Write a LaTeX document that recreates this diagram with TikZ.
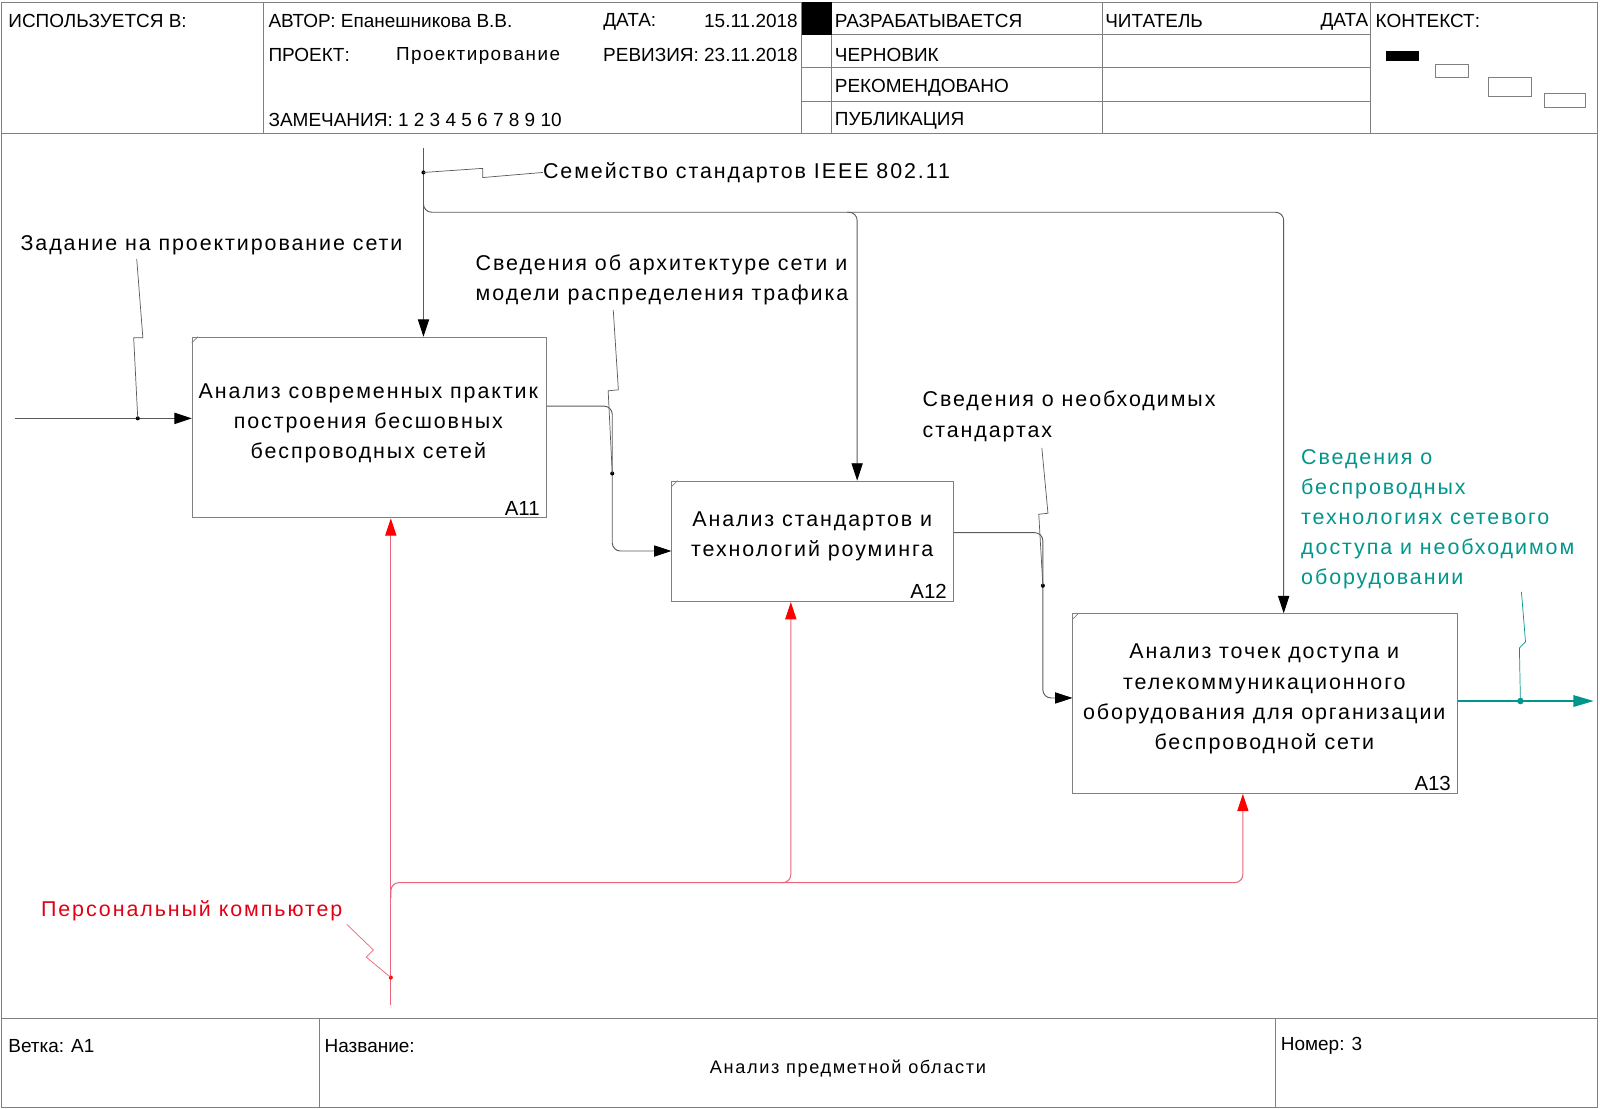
\documentclass[tikz,border=0pt]{standalone}
\usepackage{fontspec}
\setmainfont{Liberation Sans}
\newfontfamily\mfont[LetterSpace=9]{Liberation Sans}
\newfontfamily\pfont[LetterSpace=7.5]{Liberation Sans}
\usetikzlibrary{arrows.meta,calc}
\definecolor{lg}{RGB}{90,90,90}
\definecolor{bx}{RGB}{128,128,128}
\definecolor{rl}{RGB}{236,100,122}
\definecolor{rt}{RGB}{225,0,20}
\definecolor{tl}{RGB}{0,150,140}
\begin{document}
\begin{tikzpicture}[x=1pt,y=-1pt,
  frm/.style={draw=bx,line width=1pt},
  hd/.style={anchor=west,inner sep=0pt,font=\fontsize{18.6}{18.6}\selectfont},
  hdr/.style={anchor=east,inner sep=0pt,font=\fontsize{18.6}{18.6}\selectfont},
  box/.style={draw=bx,line width=1pt,anchor=north west,inner sep=0pt},
  btxt/.style={align=center,inner sep=0pt,font=\mfont\fontsize{21}{29.5}\selectfont},
  ltxt/.style={align=left,anchor=west,inner sep=0pt,font=\mfont\fontsize{21}{29.5}\selectfont},
  btag/.style={anchor=south east,inner sep=0pt,font=\fontsize{20}{20}\selectfont},
  ln/.style={draw=lg,line width=0.9pt},
  rln/.style={draw=rl,line width=1pt},
  tln/.style={draw=tl,line width=2.2pt},
  ldr/.style={draw=lg,line width=0.7pt},
  arr/.style={-{Triangle[length=17pt,width=11pt,color=black]}},
  rarr/.style={-{Triangle[length=17pt,width=11pt,color=red]}},
  tarr/.style={-{Triangle[length=20pt,width=11pt]}},
  rc/.style={rounded corners=8pt}
]
\useasboundingbox (0,0) rectangle (1568,1086);
% frame
\draw[frm] (1,2) rectangle (1566,1085);
\draw[frm] (1,131) -- (1566,131);
\foreach \x in {258,785,815,1080,1343} \draw[frm] (\x,2) -- (\x,131);
\fill (786,2) rectangle (815,34);
\draw[frm] (815,34) -- (1343,34);
\draw[frm] (785,66) -- (1343,66);
\draw[frm] (785,99) -- (1343,99);
\fill (1358,50) rectangle (1391,60);
\draw[frm] (1407,63) rectangle (1439,76);
\draw[frm] (1459,76) rectangle (1501,95);
\draw[frm] (1514,92) rectangle (1554,105);
\draw[frm] (1,998) -- (1566,998);
\draw[frm] (313,998) -- (313,1085);
\draw[frm] (1250,998) -- (1250,1085);
% header text
\node[hd] (h1) at (8,21) {ИСПОЛЬЗУЕТСЯ В:};
\node[hd] (h2) at (263,21) {АВТОР: Епанешникова В.В.};
\node[hd] (h3) at (591,21) {ДАТА:};
\node[hdr] (h4) at (782,21) {15.11.2018};
\node[hd] (h5) at (263,54) {ПРОЕКТ:};
\node[anchor=west,inner sep=0pt,font=\pfont\fontsize{18.5}{18.5}\selectfont] (h6) at (388,55) {Проектирование};
\node[hdr] (h7) at (782,54) {РЕВИЗИЯ: 23.11.2018};
\node[hd] (h8) at (263,118) {ЗАМЕЧАНИЯ: 1 2 3 4 5 6 7 8 9 10};
\node[hd] (h9) at (818,21) {РАЗРАБАТЫВАЕТСЯ};
\node[hd] (h10) at (818,54) {ЧЕРНОВИК};
\node[hd] (h11) at (818,86) {РЕКОМЕНДОВАНО};
\node[hd] (h12) at (818,118) {ПУБЛИКАЦИЯ};
\node[hd] (h13) at (1083,21) {ЧИТАТЕЛЬ};
\node[hdr] (h14) at (1341,21) {ДАТА};
\node[hd] (h15) at (1348,21) {КОНТЕКСТ:};
% footer text
\node[hd] (f1) at (8,1025) {Ветка: A1};
\node[hd] (f2) at (318,1025) {Название:};
\node[inner sep=0pt,font=\mfont\fontsize{17.8}{17.8}\selectfont] (f3) at (831,1047) {Анализ предметной области};
\node[hd] (f4) at (1255,1025) {Номер: 3};
% boxes
\node[box,minimum width=347pt,minimum height=177pt] (A11) at (188,330) {};
\node[box,minimum width=276pt,minimum height=118pt] (A12) at (658,471) {};
\node[box,minimum width=377pt,minimum height=176pt] (A13) at (1051,601) {};
\foreach \b in {A11,A12,A13} \draw[draw=bx,line width=0.7pt] ([yshift=-6pt]\b.north west) -- ([xshift=6pt]\b.north west);
\node[btxt] (t11) at (361,414.5) {Анализ современных практик\\построения бесшовных\\беспроводных сетей};
\node[btxt] (t12) at (796,526) {Анализ стандартов и\\технологий роуминга};
\node[btxt] (t13) at (1239,685) {Анализ точек доступа и\\телекоммуникационного\\оборудования для организации\\беспроводной сети};
\node[btag] (g11) at ([xshift=-7pt,yshift=3pt]A11.south east) {A11};
\node[btag] (g12) at ([xshift=-7pt,yshift=3pt]A12.south east) {A12};
\node[btag] (g13) at ([xshift=-7pt,yshift=3pt]A13.south east) {A13};
% labels
\node[ltxt] (L1) at (20,240) {Задание на проектирование сети};
\node[ltxt] (L2) at (532,169) {Семейство стандартов IEEE 802.11};
\node[ltxt] (L3) at (466,274) {Сведения об архитектуре сети и\\модели распределения трафика};
\node[ltxt] (L4) at (904,408) {Сведения о необходимых\\стандартах};
\node[ltxt,text=tl] (L5) at (1275,509) {Сведения о\\беспроводных\\технологиях сетевого\\доступа и необходимом\\оборудовании};
\node[ltxt,text=rt] (L6) at (40,893) {Персональный компьютер};
% input
\coordinate (i1) at (15,410);
\coordinate (d1) at (135,410);
\draw[ln,arr] (i1) -- (i1 -| A11.west);
\fill (d1) circle (2pt);
\draw[ldr] (d1) -- (131,331) -- (140,331) -- (134,254);
% control
\coordinate (c1) at (415,145);
\coordinate (d2) at (415,169);
\draw[ln,arr] (c1) -- (c1 |- A11.north);
\fill (d2) circle (2pt);
\draw[ldr] (d2) -- (473,165) -- (473,174) -- (L2.west);
\coordinate (k1) at (415,190);
\coordinate (k2) at (840,208);
\coordinate (k3) at (1258,208);
\draw[ln,rc,arr] (k1) |- (k2) -- (k2 |- A12.north);
\draw[ln,rc,arr] (830,208) -- (k3) -- (k3 |- A13.north);
% A11 -> A12
\coordinate (j1) at (600,398);
\coordinate (j2) at (600,540);
\coordinate (d3) at (600,464);
\draw[ln,rc,arr] (A11.east |- j1) -- (j1) -- (j2) -- (j2 -| A12.west);
\fill (d3) circle (2pt);
\draw[ldr] (d3) -- (596,383) -- (606,382) -- (601,304);
% A12 -> A13
\coordinate (j3) at (1022,522);
\coordinate (j4) at (1022,684);
\coordinate (d4) at (1022,574);
\draw[ln,rc,arr] (A12.east |- j3) -- (j3) -- (j4) -- (j4 -| A13.west);
\fill (d4) circle (2pt);
\draw[ldr] (d4) -- (1018,504) -- (1027,503) -- (1021,439);
% output
\coordinate (o3) at (1562,687);
\coordinate (d5) at (1490,687);
\draw[tln,tarr] (A13.east |- o3) -- (o3);
\fill[tl] (d5) circle (3.2pt);
\draw[draw=tl,line width=0.7pt] (d5) -- (1489,635) -- (1495,629) -- (1491,580);
% mechanism
\coordinate (m1) at (383,985);
\coordinate (d6) at (383,958);
\coordinate (k4) at (775,865);
\coordinate (k5) at (1218,865);
\draw[rln,rarr] (m1) -- (m1 |- A11.south);
\draw[rln,rc,rarr] (383,880) -- (383,865) -- (k4) -- (k4 |- A12.south);
\draw[rln,rc,rarr] (765,865) -- (k5) -- (k5 |- A13.south);
\fill[red] (d6) circle (2pt);
\draw[draw=rl,line width=0.7pt] (d6) -- (359,938) -- (366,931) -- (340,906);
\end{tikzpicture}
\end{document}
